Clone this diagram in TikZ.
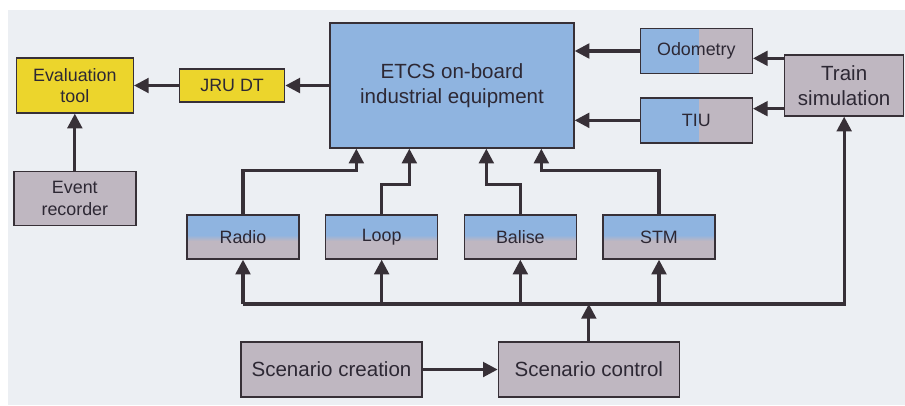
\documentclass[tikz,border=0pt]{standalone}
\usepackage{fontspec}
\setmainfont{Liberation Sans}
\usepackage{tikz}
\usetikzlibrary{arrows.meta,positioning,calc}
\definecolor{etcsblue}{RGB}{143,180,224}
\definecolor{simgray}{RGB}{191,183,193}
\definecolor{jruyellow}{RGB}{236,213,44}
\definecolor{paperbg}{RGB}{236,239,243}
\definecolor{inkgray}{RGB}{55,48,55}
\definecolor{txtgray}{RGB}{45,40,52}

\begin{document}
\begin{tikzpicture}[>={Triangle[length=11pt,width=11pt]},
    box/.style={draw=inkgray,line width=1pt,align=center,inner sep=2pt,text=txtgray},
    big/.style={font=\fontsize{15.4}{18.5}\selectfont},
    small/.style={font=\fontsize{13.4}{16.3}\selectfont},
    hsplit/.style={box,small,fill=simgray,minimum width=84pt,minimum height=33.75pt,
      path picture={\fill[etcsblue] (path picture bounding box.south west) rectangle ([xshift=2.25pt]path picture bounding box.north);}},
    vsplit/.style={box,small,fill=simgray,minimum width=84pt,minimum height=33pt,
      path picture={\fill[etcsblue] (path picture bounding box.north west) rectangle ([yshift=1.5pt]path picture bounding box.east);
        \shade[top color=etcsblue,bottom color=simgray] ([yshift=1.5pt]path picture bounding box.west) rectangle ([yshift=-3pt]path picture bounding box.east);}},
    link/.style={draw=inkgray,line width=2.3pt}]
  \useasboundingbox (0,0) rectangle (678.75pt,-303.75pt);
  \fill[paperbg] (6pt,-7.5pt) rectangle (678.75pt,-303.75pt);
  % on-board unit and recording chain
  \node[box,big,fill=etcsblue,minimum width=183pt,minimum height=93.75pt] (etcs) at (339pt,-64.125pt) {ETCS on-board\\industrial equipment};
  \node[box,small,fill=jruyellow,minimum width=78.75pt,minimum height=24.75pt,left=33pt of etcs] (jru) {JRU DT};
  \node[box,small,fill=jruyellow,minimum width=87.75pt,minimum height=41.25pt,left=33.75pt of jru] (eval) {Evaluation\\tool};
  \node[box,small,fill=simgray,minimum width=91.5pt,minimum height=40.5pt,below=42.75pt of eval] (event) {Event\\recorder};
  % train side
  \node[hsplit,right=48.75pt of etcs,yshift=25.875pt] (odo) {Odometry};
  \node[hsplit,below=17.25pt of odo] (tiu) {TIU};
  \node[box,big,fill=simgray,minimum width=89.25pt,minimum height=45.75pt,anchor=west] (train) at ([xshift=23.25pt]odo.east |- etcs.east) {Train\\simulation};
  % track side
  \node[vsplit] (radio) at (182.25pt,-177.75pt) {Radio};
  \node[vsplit,right=19pt of radio] (loop) {Loop};
  \node[vsplit,right=19pt of loop] (balise) {Balise};
  \node[vsplit,right=19pt of balise] (stm) {STM};
  \node[box,big,fill=simgray,minimum width=135.75pt,minimum height=41.25pt] (create) at (248.625pt,-277.125pt) {Scenario creation};
  \node[box,big,fill=simgray,minimum width=135.75pt,minimum height=41.25pt,right=56.25pt of create] (ctrl) {Scenario control};
  \coordinate (bus) at (0,-228pt);
  % connectors
  \draw[link,->] (etcs) -- (jru);
  \draw[link,->] (jru) -- (eval);
  \draw[link,->] (event) -- (eval);
  \foreach \s in {odo,tiu} \draw[link,->] (\s.west) -- (\s.west -| etcs.east);
  \draw[link,->] ([yshift=-3pt]train.north west) -- ([yshift=-3pt]train.north west -| odo.east);
  \draw[link,->] ([yshift=6pt]train.south west) -- ([yshift=6pt]train.south west -| tiu.east);
  \foreach \s/\h/\x in {radio/33pt/20.25pt,loop/22.5pt/60pt,balise/22.5pt/117.75pt,stm/33pt/159pt}
    \draw[link,->] (\s.north) -- ++(0,\h) -| ([xshift=\x]etcs.south west);
  \draw[link,->] (radio |- bus) -- (train |- bus) -- (train.south);
  \foreach \s in {radio,loop,balise,stm} \draw[link,->] (\s |- bus) -- (\s.south);
  \draw[link,->] (create) -- (ctrl);
  \draw[link,->] (ctrl.north) -- (ctrl.north |- bus);
\end{tikzpicture}
\end{document}
